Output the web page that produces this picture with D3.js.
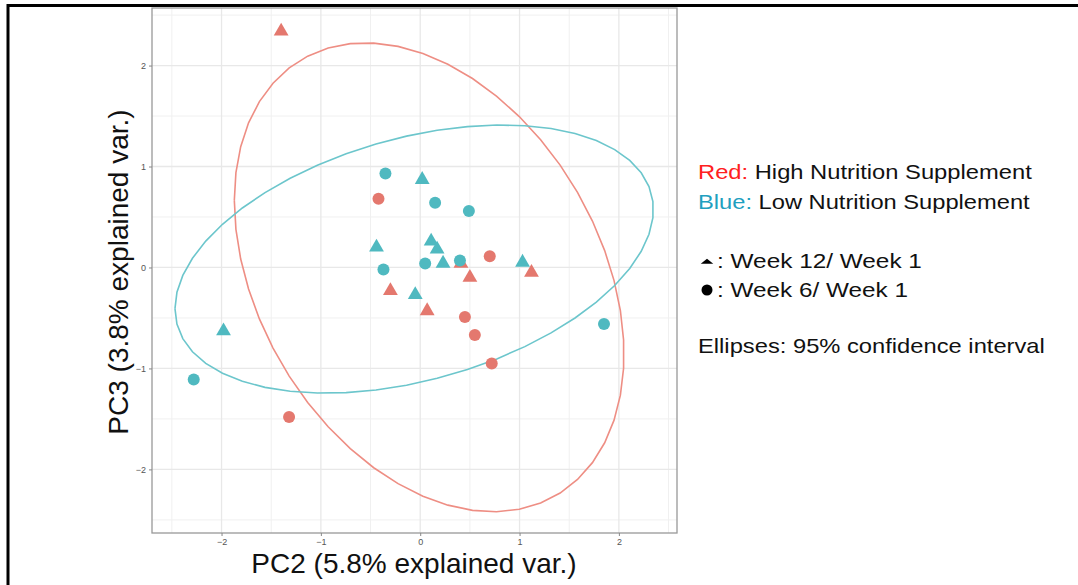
<!DOCTYPE html>
<html>
<head>
<meta charset="utf-8">
<script src="https://cdn.jsdelivr.net/npm/d3@7"></script>
<style>
  body { margin: 0; background: #fff; }
  svg { display: block; font-family: "Liberation Sans", Arial, sans-serif; }
</style>
</head>
<body>
<svg width="1078" height="585"></svg>
<script>
// PC2 / PC3 scores
const highWeek12 = [[-1.40, 2.35], [-0.30, -0.22], [0.07, -0.42], [0.41, 0.05], [0.50, -0.09], [1.12, -0.04]];
const highWeek6 = [[-0.42, 0.68], [0.70, 0.11], [0.45, -0.49], [0.55, -0.67], [0.72, -0.95], [-1.32, -1.48]];
const lowWeek12 = [[-1.98, -0.62], [-0.44, 0.21], [0.02, 0.88], [0.11, 0.27], [0.17, 0.19], [0.23, 0.05], [-0.05, -0.26], [1.03, 0.06]];
const lowWeek6 = [[-0.35, 0.93], [0.15, 0.64], [0.49, 0.56], [-0.37, -0.02], [0.05, 0.04], [0.40, 0.07], [1.85, -0.56], [-2.28, -1.11]];
const xTicks = [-2, -1, 0, 1, 2];
const yTicks = [-2, -1, 0, 1, 2];
const ellipseProb = 0.95;

const groups = [
  { name: 'high', color: '#E4786E', line: '#EE8E84', pts: highWeek12.map(p => ({ p, shape: 'tri' })).concat(highWeek6.map(p => ({ p, shape: 'circ' }))) },
  { name: 'low', color: '#4FB9C0', line: '#6CC6CC', pts: lowWeek12.map(p => ({ p, shape: 'tri' })).concat(lowWeek6.map(p => ({ p, shape: 'circ' }))) }
];

const svg = d3.select('svg');
const panel = { left: 152, top: 8, right: 677, bottom: 533 };

const x = d3.scaleLinear().domain([-2.7, 2.585]).range([panel.left, panel.right]);
const y = d3.scaleLinear().domain([-2.63, 2.57]).range([panel.bottom, panel.top]);

// outer frame (top and left edges only)
svg.append('line').attr('x1', 7).attr('x2', 1078).attr('y1', 5.5).attr('y2', 5.5).attr('stroke', '#000').attr('stroke-width', 3);
svg.append('line').attr('x1', 8).attr('x2', 8).attr('y1', 4).attr('y2', 585).attr('stroke', '#000').attr('stroke-width', 3);

// grid
const minor = d3.range(-2.5, 2.6, 1);
const grid = svg.append('g');
grid.selectAll('.mx').data(minor).join('line')
  .attr('x1', d => x(d)).attr('x2', d => x(d)).attr('y1', panel.top).attr('y2', panel.bottom)
  .attr('stroke', '#f0f0f0').attr('stroke-width', 1);
grid.selectAll('.my').data(minor).join('line')
  .attr('y1', d => y(d)).attr('y2', d => y(d)).attr('x1', panel.left).attr('x2', panel.right)
  .attr('stroke', '#f0f0f0').attr('stroke-width', 1);
grid.selectAll('.gx').data(xTicks).join('line')
  .attr('x1', d => x(d)).attr('x2', d => x(d)).attr('y1', panel.top).attr('y2', panel.bottom)
  .attr('stroke', '#e8e8e8').attr('stroke-width', 1.3);
grid.selectAll('.gy').data(yTicks).join('line')
  .attr('y1', d => y(d)).attr('y2', d => y(d)).attr('x1', panel.left).attr('x2', panel.right)
  .attr('stroke', '#e8e8e8').attr('stroke-width', 1.3);

// ellipses, normal theory like ggbiplot
const theta = d3.range(50).map(i => -Math.PI + i * 2 * Math.PI / 49);
const ed = Math.sqrt(-2 * Math.log(1 - ellipseProb));
const line = d3.line().x(d => x(d[0])).y(d => y(d[1]));

groups.forEach(g => {
  const xs = g.pts.map(d => d.p[0]), ys = g.pts.map(d => d.p[1]);
  const mx = d3.mean(xs), my = d3.mean(ys), n = xs.length;
  const s11 = d3.sum(xs, v => (v - mx) ** 2) / (n - 1);
  const s22 = d3.sum(ys, v => (v - my) ** 2) / (n - 1);
  const s12 = d3.sum(xs, (v, i) => (v - mx) * (ys[i] - my)) / (n - 1);
  const a = Math.sqrt(s11), b = s12 / a, c = Math.sqrt(s22 - b * b);
  const ell = theta.map(t => [mx + ed * Math.cos(t) * a, my + ed * (Math.cos(t) * b + Math.sin(t) * c)]);
  svg.append('path').attr('d', line(ell)).attr('fill', 'none')
    .attr('stroke', g.line).attr('stroke-width', 1.6);
});

// points
const tri = d3.symbol(d3.symbolTriangle, 95);
groups.forEach(g => {
  const pg = svg.append('g');
  pg.selectAll('circle').data(g.pts.filter(d => d.shape === 'circ')).join('circle')
    .attr('cx', d => x(d.p[0])).attr('cy', d => y(d.p[1])).attr('r', 6)
    .attr('fill', g.color);
  pg.selectAll('path').data(g.pts.filter(d => d.shape === 'tri')).join('path')
    .attr('d', tri)
    .attr('transform', d => `translate(${x(d.p[0])},${y(d.p[1]) + 1})`)
    .attr('fill', g.color);
});

// panel border
svg.append('rect').attr('x', panel.left).attr('y', panel.top)
  .attr('width', panel.right - panel.left).attr('height', panel.bottom - panel.top)
  .attr('fill', 'none').attr('stroke', '#999').attr('stroke-width', 1.3);

// axes
const xAxis = svg.append('g').attr('transform', `translate(0,${panel.bottom})`)
  .call(d3.axisBottom(x).tickValues(xTicks).tickFormat(d3.format('d')).tickSize(3).tickPadding(3));
const yAxis = svg.append('g').attr('transform', `translate(${panel.left},0)`)
  .call(d3.axisLeft(y).tickValues(yTicks).tickFormat(d3.format('d')).tickSize(3).tickPadding(3));
[xAxis, yAxis].forEach(ax => {
  ax.select('.domain').remove();
  ax.selectAll('line').attr('stroke', '#888');
  ax.selectAll('text').attr('fill', '#555').style('font-size', '9px').style('font-family', '"Liberation Sans", Arial, sans-serif');
});

svg.append('text').attr('x', 414).attr('y', 573).attr('text-anchor', 'middle')
  .style('font-size', '28px').attr('fill', '#111').text('PC2 (5.8% explained var.)');
svg.append('text').attr('transform', 'translate(128,272) rotate(-90)').attr('text-anchor', 'middle')
  .style('font-size', '28px').attr('fill', '#111').text('PC3 (3.8% explained var.)');

// legend notes: stretch each line horizontally to the width seen in the picture
function note(x0, y0, width, parts) {
  const g = svg.append('g');
  const t = g.append('text').attr('x', 0).attr('y', 0).style('font-size', '20px');
  parts.forEach(p => t.append('tspan').attr('fill', p[1]).text(p[0]));
  const w = t.node().getComputedTextLength();
  g.attr('transform', `translate(${x0},${y0}) scale(${width / w},1)`);
}
note(698, 179, 334, [['Red:', '#FF2020'], [' High Nutrition Supplement', '#111']]);
note(698, 209, 332, [['Blue:', '#1FA0C0'], [' Low Nutrition Supplement', '#111']]);
svg.append('path').attr('d', d3.symbol(d3.symbolTriangle, 40)).attr('transform', 'translate(707,262) scale(1.3,0.6)').attr('fill', '#000');
note(717, 268, 205, [[': Week 12/ Week 1', '#111']]);
svg.append('circle').attr('cx', 707).attr('cy', 290).attr('r', 5.5).attr('fill', '#000');
note(717, 297, 191, [[': Week 6/ Week 1', '#111']]);
note(698, 353, 347, [['Ellipses: 95% confidence interval', '#111']]);
</script>
</body>
</html>
